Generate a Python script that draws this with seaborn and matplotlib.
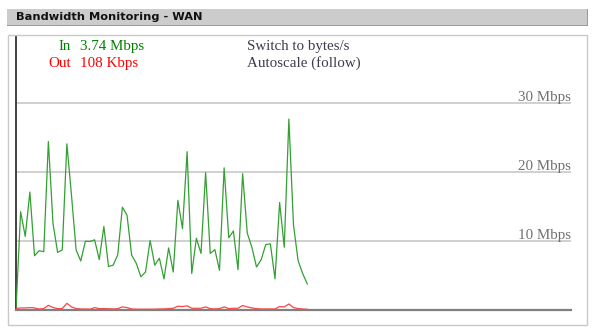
import numpy as np
import pandas as pd
import matplotlib
matplotlib.use("Agg")
import matplotlib.pyplot as plt
from matplotlib.patches import Rectangle
import seaborn as sns

# ---- data (Mbps) ----
in_mbps = [0.0, 14.25, 10.66, 17.1, 7.86, 8.6, 8.45, 24.42, 12.53, 8.35, 8.7, 24.08, 16.6,
           8.7, 7.1, 9.97, 9.93, 10.17, 7.3, 12.1, 6.3, 6.5, 8.0, 14.9, 13.76, 7.96, 6.78,
           4.82, 5.5, 10.07, 6.5, 7.5, 4.5, 9.0, 5.5, 15.9, 11.8, 22.95, 5.3, 10.4, 8.2,
           19.9, 8.2, 8.75, 5.75, 20.6, 10.47, 11.45, 5.85, 19.75, 11.15, 9.1, 6.24, 7.27,
           9.48, 9.58, 4.52, 15.58, 9.1, 27.67, 12.3, 7.13, 5.26, 3.74]
out_mbps = [0.2, 0.3, 0.3, 0.35, 0.3, 0.15, 0.2, 0.68, 0.35, 0.2, 0.2, 0.97, 0.45, 0.2,
            0.15, 0.15, 0.12, 0.35, 0.2, 0.2, 0.18, 0.15, 0.2, 0.45, 0.35, 0.15, 0.12,
            0.12, 0.12, 0.12, 0.12, 0.15, 0.15, 0.2, 0.25, 0.55, 0.5, 0.6, 0.25, 0.25,
            0.25, 0.45, 0.2, 0.15, 0.2, 0.45, 0.2, 0.25, 0.25, 0.65, 0.45, 0.3, 0.2, 0.15,
            0.15, 0.15, 0.15, 0.5, 0.45, 0.87, 0.35, 0.2, 0.15, 0.108]
grid_values = [10, 20, 30]
grid_labels = ["10 Mbps", "20 Mbps", "30 Mbps"]
title = "Bandwidth Monitoring - WAN"
in_text = ("In", "3.74 Mbps")
out_text = ("Out", "108 Kbps")
links = ["Switch to bytes/s", "Autoscale (follow)"]

df = pd.DataFrame({"t": np.arange(len(in_mbps)), "in": in_mbps, "out": out_mbps})

sns.set_style("white")
plt.rcParams["font.family"] = ["DejaVu Sans"]

W, H = 594, 331
fig = plt.figure(figsize=(W / 100, H / 100), dpi=100)
fig.patch.set_facecolor("white")

def fx(x):
    return x / W

def fy(y):
    return 1 - y / H

# header bar
fig.patches.append(Rectangle((fx(7), fy(25)), fx(580), 16 / H, transform=fig.transFigure,
                             facecolor="#cccccc", edgecolor="none", zorder=0))
fig.patches.append(Rectangle((fx(7), fy(26)), fx(581), 1.2 / H, transform=fig.transFigure,
                             facecolor="#9a9a9a", edgecolor="none", zorder=0))
fig.patches.append(Rectangle((fx(586.5), fy(26)), 1.2 / W, 17 / H, transform=fig.transFigure,
                             facecolor="#9a9a9a", edgecolor="none", zorder=0))
# panel border
fig.patches.append(Rectangle((fx(7.5), fy(325)), fx(579), 290 / H, transform=fig.transFigure,
                             facecolor="none", edgecolor="#c8c8c8", linewidth=1.0, zorder=0))

fig.text(fx(16), fy(19.5), title, fontsize=8.2, fontweight="bold", color="#111111",
         ha="left", va="baseline", family="DejaVu Sans")

# axes
ax = fig.add_axes([fx(16), fy(310), fx(555), 274 / H])
ax.set_facecolor("none")
ax.set_xlim(0, 120)
ax.set_ylim(0, 274 / 6.9)

for v, lab in zip(grid_values, grid_labels):
    ax.axhline(v, color="#c4c4c4", linewidth=1.1, zorder=1)
    ax.annotate(lab, xy=(1.0, v), xycoords=("axes fraction", "data"),
                xytext=(0, 1.8), textcoords="offset pixels",
                ha="right", va="baseline", fontsize=10.8, color="#707070",
                family="Liberation Serif")

sns.lineplot(data=df, x="t", y="in", ax=ax, color="#33a033", linewidth=0.9, zorder=3)
sns.lineplot(data=df, x="t", y="out", ax=ax, color="#ff4444", linewidth=0.9, zorder=3)

ax.set_xlabel("")
ax.set_ylabel("")
ax.set_xticks([])
ax.set_yticks([])
for s in ["top", "right"]:
    ax.spines[s].set_visible(False)
ax.spines["left"].set_color("#333333")
ax.spines["left"].set_linewidth(1.3)
ax.spines["bottom"].set_color("#808080")
ax.spines["bottom"].set_linewidth(1.6)
ax.spines["bottom"].set_zorder(4)

serif = "Liberation Serif"
fig.text(fx(71), fy(50), in_text[0], ha="right", va="baseline", fontsize=10.8,
         color="#008000", family=serif)
fig.text(fx(80), fy(50), in_text[1], ha="left", va="baseline", fontsize=10.8,
         color="#008000", family=serif)
fig.text(fx(71), fy(67), out_text[0], ha="right", va="baseline", fontsize=10.8,
         color="#ff0000", family=serif)
fig.text(fx(80), fy(67), out_text[1], ha="left", va="baseline", fontsize=10.8,
         color="#ff0000", family=serif)
fig.text(fx(247), fy(50), links[0], ha="left", va="baseline", fontsize=10.8,
         color="#3c3c4c", family=serif)
fig.text(fx(247), fy(66.5), links[1], ha="left", va="baseline", fontsize=10.8,
         color="#3c3c4c", family=serif)

fig.savefig("out.png", dpi=100, facecolor="white")
